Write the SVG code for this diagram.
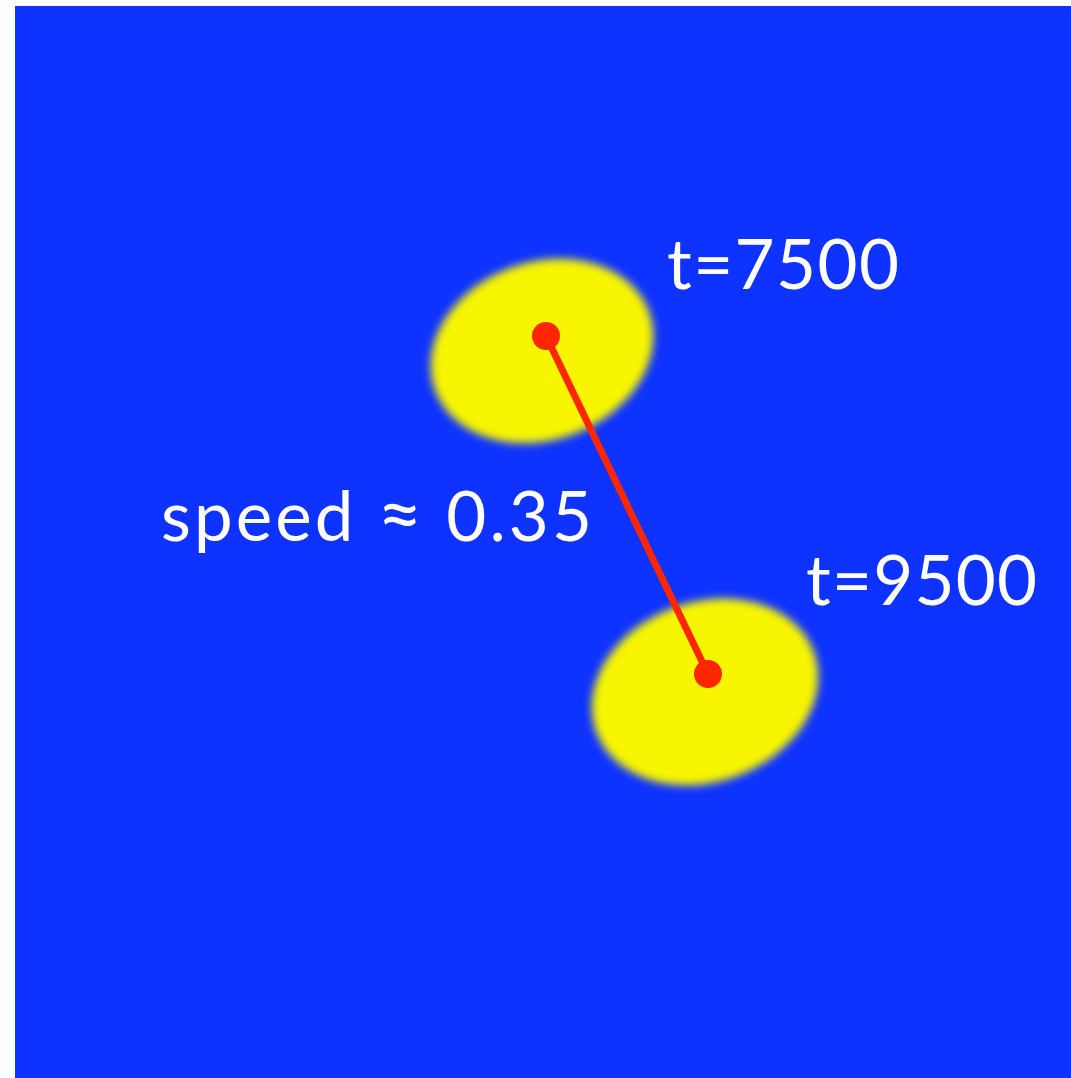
<svg xmlns="http://www.w3.org/2000/svg" width="1071" height="1078" viewBox="0 0 1071 1078">
<defs>
<style>
.lbl{font-family:Lato,"Open Sans","Liberation Sans",sans-serif;fill:#ffffff;font-size:69px}
.blob{fill:#f7f500;filter:url(#soft)}
.dot{fill:#ff2600}
</style>
<filter id="soft" x="-20%" y="-20%" width="140%" height="140%"><feGaussianBlur stdDeviation="4"/></filter>
</defs>
<rect width="1071" height="1078" fill="#ffffff"/>
<rect x="15" y="6" width="1056" height="1072" fill="#0e32ff"/>
<g id="blob7500"><ellipse class="blob" cx="542" cy="351" rx="114" ry="89" transform="rotate(-20 542 351)"/></g>
<g id="blob9500"><ellipse class="blob" cx="705" cy="692" rx="116" ry="90" transform="rotate(-20 705 692)"/></g>
<g id="connectors"><line x1="546" y1="336" x2="708" y2="674" stroke="#ff2600" stroke-width="7"/></g>
<g id="p7500"><circle class="dot" cx="546" cy="336" r="14"/></g>
<g id="p9500"><circle class="dot" cx="708" cy="674" r="14"/></g>
<g id="labels">
<text class="lbl" x="667" y="289" textLength="232" lengthAdjust="spacing">t=7500</text>
<text class="lbl" x="806" y="605" textLength="231" lengthAdjust="spacing">t=9500</text>
<text class="lbl" x="161" y="541" textLength="431" lengthAdjust="spacing">speed <tspan font-size="78">≈</tspan> 0.35</text>
</g>
</svg>
